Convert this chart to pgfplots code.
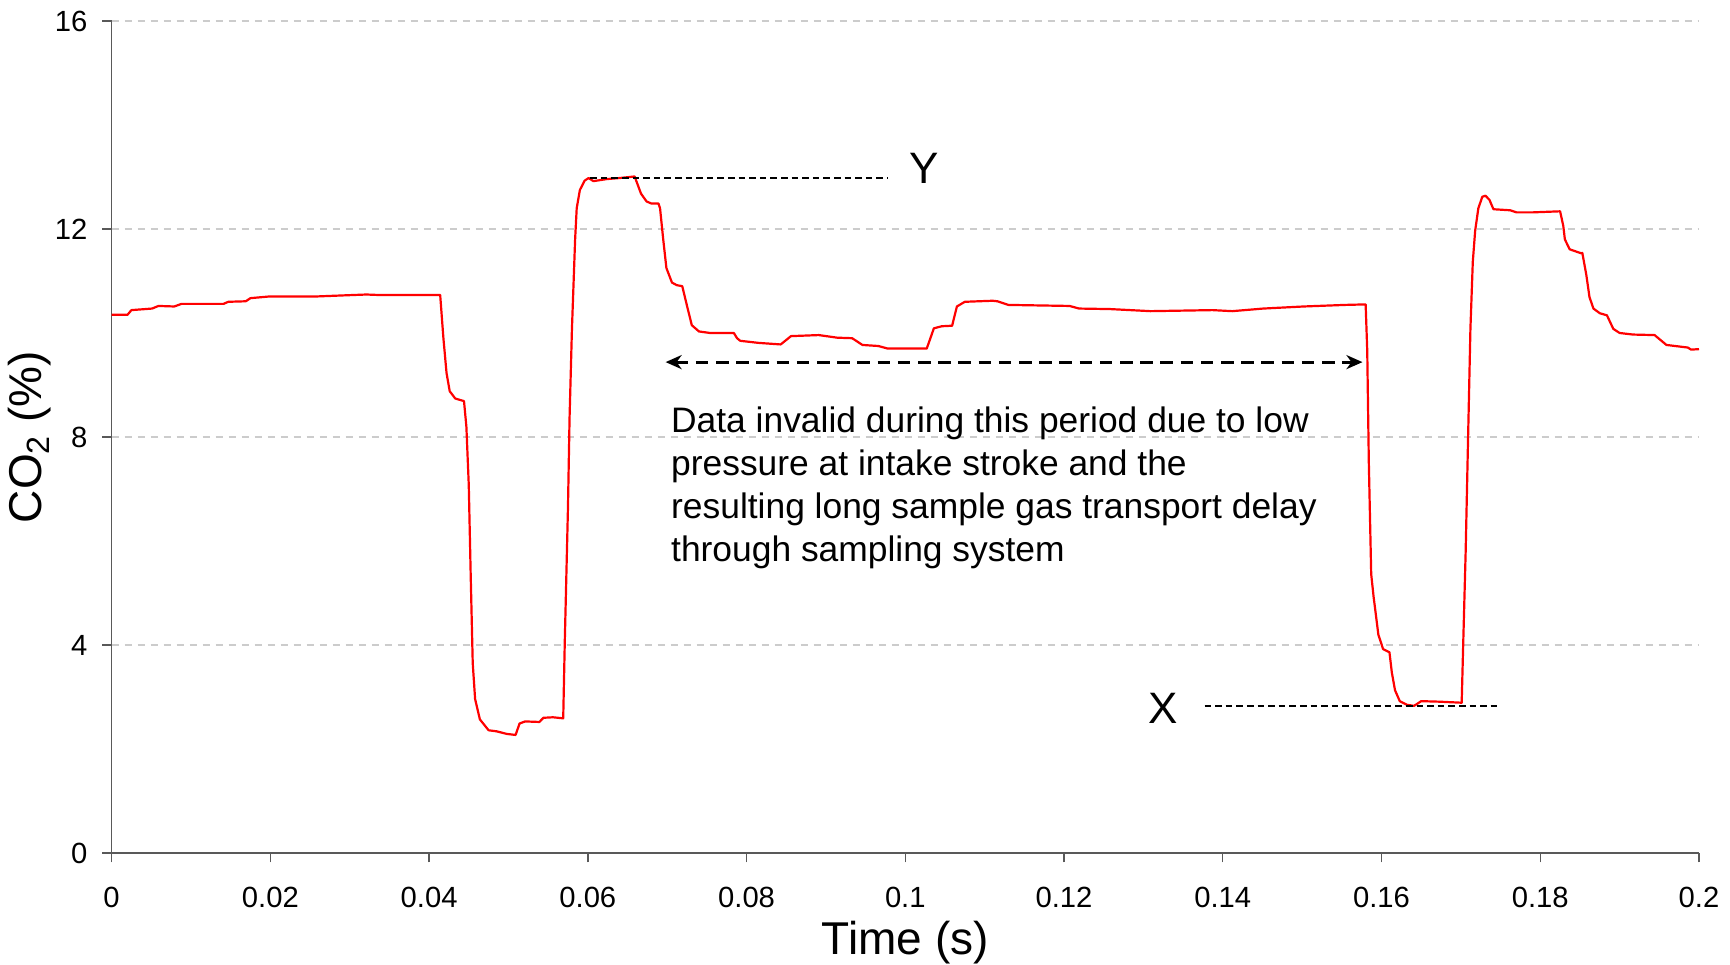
\documentclass[border=0pt]{standalone}
\usepackage{fontspec}
\setmainfont{Liberation Sans}
\usepackage{pgfplots}
\pgfplotsset{compat=1.18}
\usetikzlibrary{arrows.meta}

\pgfplotstableread{
t y
0 10.35
0.0020 10.35
0.0025 10.44
0.0051 10.47
0.0059 10.52
0.0079 10.51
0.0088 10.56
0.0141 10.56
0.0147 10.60
0.0169 10.61
0.0175 10.67
0.0197 10.70
0.0254 10.70
0.0287 10.72
0.0321 10.74
0.0338 10.73
0.0414 10.73
0.0418 9.91
0.0422 9.23
0.0426 8.88
0.0433 8.74
0.0444 8.69
0.0447 8.20
0.0450 7.08
0.04524 5.37
0.0455 3.65
0.0458 2.96
0.0464 2.57
0.0475 2.36
0.0485 2.34
0.0498 2.29
0.0509 2.27
0.0514 2.49
0.0521 2.53
0.0539 2.52
0.0544 2.60
0.0556 2.61
0.0569 2.59
0.0571 4.08
0.0575 6.65
0.0577 8.37
0.0580 10.08
0.0584 11.80
0.0586 12.40
0.0590 12.75
0.0596 12.93
0.0601 12.98
0.0607 12.92
0.0624 12.96
0.0640 12.98
0.0659 13.01
0.0667 12.68
0.0674 12.53
0.0680 12.49
0.0689 12.49
0.0691 12.40
0.0695 11.80
0.0699 11.25
0.0706 10.97
0.0712 10.92
0.0719 10.90
0.0725 10.52
0.0731 10.15
0.0740 10.03
0.0754 10.00
0.0784 10.00
0.0788 9.90
0.0792 9.85
0.0815 9.81
0.0843 9.78
0.0856 9.94
0.0891 9.96
0.0914 9.91
0.0933 9.90
0.0946 9.77
0.0966 9.75
0.0978 9.70
0.1027 9.70
0.1036 10.09
0.1046 10.13
0.1059 10.14
0.1065 10.51
0.1075 10.60
0.1110 10.62
0.1116 10.61
0.1130 10.54
0.1207 10.52
0.1219 10.47
0.1258 10.46
0.1309 10.42
0.1387 10.44
0.1412 10.42
0.1451 10.47
0.1502 10.51
0.1554 10.54
0.1580 10.55
0.1582 9.66
0.1584 7.51
0.1587 5.36
0.1590 4.93
0.1596 4.20
0.1602 3.92
0.1610 3.86
0.1613 3.47
0.1617 3.13
0.1623 2.92
0.1632 2.85
0.1641 2.83
0.1650 2.92
0.1673 2.91
0.1701 2.89
0.1703 4.07
0.1706 5.79
0.1709 7.94
0.1712 10.08
0.1715 11.37
0.1718 11.97
0.1722 12.40
0.1727 12.62
0.1731 12.64
0.1736 12.56
0.1741 12.38
0.1762 12.36
0.1770 12.32
0.1791 12.32
0.1825 12.34
0.1829 12.06
0.1831 11.80
0.1837 11.61
0.1852 11.53
0.1853 11.54
0.1858 11.12
0.1862 10.69
0.1867 10.47
0.1875 10.38
0.1884 10.34
0.1892 10.08
0.1900 10.00
0.1917 9.97
0.1944 9.96
0.1959 9.77
0.1986 9.72
0.1990 9.68
0.2000 9.69
}\codata

\begin{document}
\begin{tikzpicture}
\begin{axis}[
  at={(0,0)}, anchor=south west,
  scale only axis, width=793.7bp, height=416bp,
  xmin=0, xmax=0.2, ymin=0, ymax=16,
  axis lines*=left,
  axis line style={black!65, line width=0.7bp},
  xtick={0,0.02,0.04,0.06,0.08,0.1,0.12,0.14,0.16,0.18,0.2},
  xticklabels={0,0.02,0.04,0.06,0.08,0.1,0.12,0.14,0.16,0.18,0.2},
  ytick={0,4,8,12,16},
  yticklabels={0,4,8,12,16},
  tick align=outside,
  major tick length=4.7bp,
  tick style={black!65, line width=0.7bp},
  ymajorgrids,
  grid style={gray!40, line width=0.6bp, dash pattern=on 3.5bp off 3bp},
  ticklabel style={font=\fontsize{14.6bp}{17bp}\selectfont, inner sep=0pt},
  xticklabel style={anchor=north, yshift=-12bp},
  yticklabel style={anchor=east, xshift=-7.2bp},
  xlabel={Time (s)},
  ylabel={CO\textsubscript{2} (\%)},
  xlabel style={at={(axis description cs:0.5,-0.1219)}, anchor=base, inner sep=0pt,
    font=\fontsize{23bp}{26bp}\selectfont},
  ylabel style={at={(axis description cs:-0.0441,0.5)}, anchor=base, inner sep=0pt,
    font=\fontsize{23bp}{26bp}\selectfont},
  clip=false,
]
\addplot[red, line width=1.1bp, line join=round] table[x=t, y=y] {\codata};

\draw[black, line width=1bp, dash pattern=on 3.3bp off 2bp] (axis cs:0.0603,12.99) -- (axis cs:0.0978,12.99);
\draw[black, line width=1bp, dash pattern=on 3.3bp off 2bp] (axis cs:0.1377,2.83) -- (axis cs:0.1749,2.83);
\draw[black, line width=1.5bp, dash pattern=on 6.3bp off 3.8bp,
  {Stealth[length=8bp,width=7bp,inset=2.5bp]}-{Stealth[length=8bp,width=7bp,inset=2.5bp]}]
  (axis cs:0.0698,9.44) -- (axis cs:0.1576,9.44);

\node[anchor=base west, inner sep=0pt, font=\fontsize{22bp}{26bp}\selectfont] at (axis cs:0.1005,12.875) {Y};
\node[anchor=base west, inner sep=0pt, font=\fontsize{22bp}{26bp}\selectfont] at (axis cs:0.1306,2.49) {X};

\node[anchor=base west, inner sep=0pt, font=\fontsize{17.7bp}{21.5bp}\selectfont] at (axis cs:0.07045,8.09) {Data invalid during this period due to low};
\node[anchor=base west, inner sep=0pt, font=\fontsize{17.7bp}{21.5bp}\selectfont] at (axis cs:0.07045,7.263) {pressure at intake stroke and the};
\node[anchor=base west, inner sep=0pt, font=\fontsize{17.7bp}{21.5bp}\selectfont] at (axis cs:0.07045,6.436) {resulting long sample gas transport delay};
\node[anchor=base west, inner sep=0pt, font=\fontsize{17.7bp}{21.5bp}\selectfont] at (axis cs:0.07045,5.609) {through sampling system};
\end{axis}
\pgfresetboundingbox
\useasboundingbox (-55.8bp,-56bp) rectangle (809.2bp,426.5bp);
\end{tikzpicture}
\end{document}
